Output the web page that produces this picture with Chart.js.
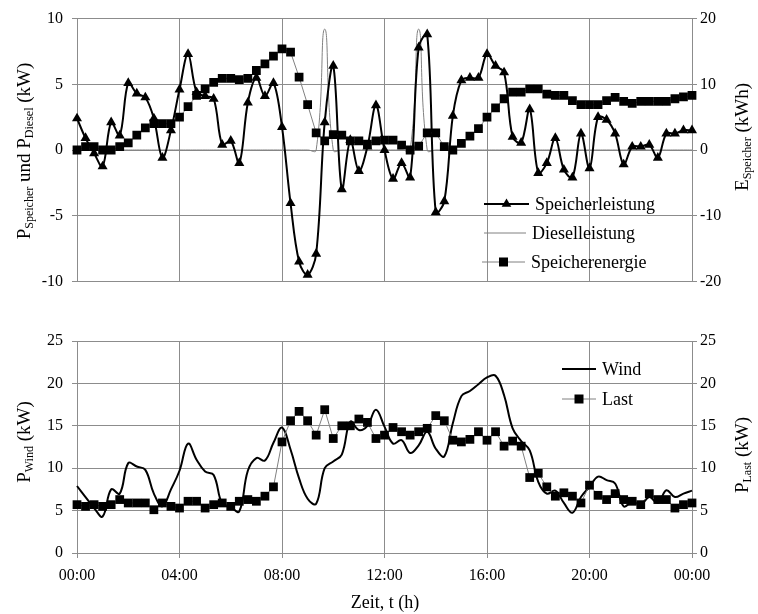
<!DOCTYPE html>
<html>
<head>
<meta charset="utf-8">
<script src="https://cdn.jsdelivr.net/npm/chart.js@4.4.1/dist/chart.umd.min.js"></script>
<style>
  body { margin: 0; background: #fff; }
  #wrap { position: relative; width: 758px; height: 614px; }
  canvas { position: absolute; left: 0; }
</style>
</head>
<body>
<div id="wrap">
  <canvas id="topChart" width="758" height="300" style="top:0"></canvas>
  <canvas id="bottomChart" width="758" height="314" style="top:300px"></canvas>
</div>
<script>
// time of each sample in hours (every 20 min, 00:00 .. 24:00)
const times = Array.from({ length: 73 }, (_, i) => i / 3);
const hourLabels = ['00:00', '04:00', '08:00', '12:00', '16:00', '20:00', '00:00'];

// top chart, kW (left axis)
const speicherleistung = [
  2.4, 0.9, -0.25, -1.25, 2.1, 1.1, 5.1, 4.3, 4.0, 2.4,
  -0.6, 1.5, 4.6, 7.3, 4.4, 4.1, 3.9, 0.4, 0.7, -1.0,
  3.6, 5.5, 4.1, 5.1, 1.75, -4.05, -8.5, -9.5, -7.9, 2.1,
  6.4, -3.0, 0.75, -1.6, 0.25, 3.4, 0.0, -2.2, -1.0, -2.1,
  7.8, 8.8, -4.75, -3.9, 2.6, 5.3, 5.5, 5.5, 7.3, 6.4,
  5.9, 1.0, 0.55, 3.1, -1.75, -1.0, 0.9, -1.5, -2.1, 1.25,
  -1.4, 2.5, 2.3, 1.25, -1.1, 0.25, 0.25, 0.4, -0.6, 1.25,
  1.25, 1.5, 1.5
];
const dieselleistung = [
  0, 0, 0, 0, 0, 0, 0, 0, 0, 0,
  0, 0, 0, 0, 0, 0, 0, 0, 0, 0,
  0, 0, 0, 0, 0, 0, 0, 0, 0, 9.2,
  0, 0, 0, 0, 0, 0, 0, 0, 0, 0,
  9.2, 0, 0, 0, 0, 0, 0, 0, 0, 0,
  0, 0, 0, 0, 0, 0, 0, 0, 0, 0,
  0, 0, 0, 0, 0, 0, 0, 0, 0, 0,
  0, 0, 0
];
// top chart, kWh (right axis)
const speicherenergie = [
  0, 0.5, 0.5, 0, 0, 0.5, 1.1, 2.25, 3.35, 4.0,
  4.0, 4.0, 5.0, 6.6, 8.3, 9.3, 10.3, 10.9, 10.9, 10.7,
  10.9, 12.1, 13.1, 14.3, 15.4, 14.9, 11.1, 6.9, 2.6, 1.4,
  2.35, 2.25, 1.4, 1.4, 0.9, 1.4, 1.5, 1.5, 0.75, 0,
  0.6, 2.6, 2.6, 0.5, 0, 1.0, 2.1, 3.25, 5.0, 6.4,
  7.8, 8.8, 8.8, 9.3, 9.3, 8.5, 8.3, 8.3, 7.5, 6.9,
  6.9, 6.9, 7.5, 8.0, 7.4, 7.1, 7.4, 7.4, 7.4, 7.4,
  7.8, 8.1, 8.3
];

// bottom chart, kW
const wind = [
  7.9, 6.6, 5.3, 4.3, 7.5, 7.0, 10.6, 10.2, 9.8, 7.0,
  5.5, 7.5, 9.7, 12.9, 11.0, 9.6, 9.2, 5.8, 5.4, 4.9,
  9.7, 11.2, 10.9, 13.0, 14.8, 12.2, 8.8, 6.4, 5.8, 10.0,
  10.8, 11.6, 15.5, 14.5, 15.0, 16.9, 14.9, 12.9, 13.3, 11.8,
  12.7, 14.3, 12.3, 11.4, 15.3, 18.5, 19.1, 19.9, 20.7, 20.9,
  18.6, 14.7, 13.2, 12.1, 8.4, 7.0, 7.35, 5.9, 4.75, 6.6,
  7.8, 9.0, 8.6, 8.2, 5.5, 6.05, 5.7, 6.6, 5.9, 7.4,
  6.6, 7.0, 7.35
];
const last = [
  5.7, 5.5, 5.7, 5.5, 5.7, 6.3, 5.9, 5.9, 5.9, 5.1,
  5.9, 5.5, 5.3, 6.1, 6.1, 5.3, 5.7, 5.9, 5.5, 6.1,
  6.3, 6.1, 6.7, 7.8, 13.1, 15.6, 16.7, 15.6, 13.9, 16.9,
  13.5, 15.0, 15.0, 15.8, 15.4, 13.5, 13.9, 14.8, 14.3, 13.9,
  14.3, 14.7, 16.2, 15.6, 13.3, 13.1, 13.4, 14.3, 13.3, 14.3,
  12.6, 13.2, 12.6, 8.9, 9.4, 7.8, 6.7, 7.1, 6.7, 5.9,
  8.0, 6.8, 6.3, 7.0, 6.3, 6.1, 5.7, 7.0, 6.3, 6.3,
  5.3, 5.7, 5.9
];

const SERIF = "'Liberation Serif', 'Times New Roman', serif";
const GRID = '#8c8c8c';
const pts = arr => arr.map((v, i) => ({ x: times[i], y: v }));

// text with subscripts, rotated, centred on (x, y)
function richTitle(ctx, parts, x, y, rot, size, subSize) {
  ctx.save();
  ctx.translate(x, y);
  ctx.rotate(rot);
  let w = 0;
  parts.forEach(p => {
    ctx.font = (p[1] ? subSize : size) + 'px ' + SERIF;
    w += ctx.measureText(p[0]).width;
  });
  let cx = -w / 2;
  ctx.fillStyle = '#000';
  ctx.textAlign = 'left';
  ctx.textBaseline = 'alphabetic';
  parts.forEach(p => {
    ctx.font = (p[1] ? subSize : size) + 'px ' + SERIF;
    ctx.fillText(p[0], cx, p[1] ? 9 : 6);
    cx += ctx.measureText(p[0]).width;
  });
  ctx.restore();
}

function legendItem(ctx, x1, x2, y, color, lw, marker, label) {
  ctx.save();
  ctx.strokeStyle = color;
  ctx.lineWidth = lw;
  ctx.beginPath();
  ctx.moveTo(x1, y);
  ctx.lineTo(x2, y);
  ctx.stroke();
  ctx.fillStyle = '#000';
  const mx = (x1 + x2) / 2;
  if (marker === 'triangle') {
    ctx.beginPath();
    ctx.moveTo(mx, y - 5.5);
    ctx.lineTo(mx + 4.8, y + 2.8);
    ctx.lineTo(mx - 4.8, y + 2.8);
    ctx.closePath();
    ctx.fill();
  } else if (marker === 'rect') {
    ctx.fillRect(mx - 4.5, y - 4.5, 9, 9);
  }
  ctx.font = '18px ' + SERIF;
  ctx.textAlign = 'left';
  ctx.textBaseline = 'middle';
  ctx.fillText(label, x2 + 6, y + 1);
  ctx.restore();
}

function yAxis(pos, min, max, step, width, onArea, pad) {
  return {
    position: pos, min: min, max: max,
    afterFit: s => { s.width = width; },
    ticks: { stepSize: step, color: '#000', font: { family: SERIF, size: 16 }, padding: pad },
    grid: { color: GRID, tickLength: 5, drawOnChartArea: onArea },
    border: { color: GRID }
  };
}

function xAxis(showLabels, height) {
  return {
    type: 'linear', min: 0, max: 24,
    afterFit: s => { s.height = height; },
    afterBuildTicks: s => { s.ticks = [0, 4, 8, 12, 16, 20, 24].map(v => ({ value: v })); },
    ticks: {
      display: showLabels, autoSkip: false, maxRotation: 0, padding: 8,
      color: '#000', font: { family: SERIF, size: 16 },
      callback: v => hourLabels[v / 4]
    },
    grid: { color: GRID, tickLength: 5, drawTicks: showLabels },
    border: { color: GRID }
  };
}

const topDeco = {
  id: 'topDeco',
  afterDraw(chart) {
    const ctx = chart.ctx;
    richTitle(ctx, [['P', 0], ['Speicher', 1], [' und P', 0], ['Diesel', 1], [' (kW)', 0]],
      24, 151, -Math.PI / 2, 19, 12);
    richTitle(ctx, [['E', 0], ['Speicher', 1], [' (kWh)', 0]],
      742, 137, -Math.PI / 2, 19, 12);
    legendItem(ctx, 484, 529, 204, '#000', 2, 'triangle', 'Speicherleistung');
    legendItem(ctx, 484, 526, 233, '#808080', 1, null, 'Dieselleistung');
    legendItem(ctx, 482, 525, 262, '#808080', 1, 'rect', 'Speicherenergie');
  }
};

const bottomDeco = {
  id: 'bottomDeco',
  afterDraw(chart) {
    const ctx = chart.ctx;
    richTitle(ctx, [['P', 0], ['Wind', 1], [' (kW)', 0]], 24, 142, -Math.PI / 2, 19, 12);
    richTitle(ctx, [['P', 0], ['Last', 1], [' (kW)', 0]], 742, 155, -Math.PI / 2, 19, 12);
    ctx.save();
    ctx.font = '18px ' + SERIF;
    ctx.fillStyle = '#000';
    ctx.textAlign = 'center';
    ctx.textBaseline = 'middle';
    ctx.fillText('Zeit, t (h)', 385, 303);
    ctx.restore();
    legendItem(ctx, 562, 596, 69, '#000', 2, null, 'Wind');
    legendItem(ctx, 562, 596, 99, '#808080', 1, 'rect', 'Last');
  }
};

new Chart(document.getElementById('topChart'), {
  type: 'line',
  data: {
    datasets: [
      {
        label: 'Speicherenergie', data: pts(speicherenergie), yAxisID: 'y2', order: 0,
        borderColor: '#808080', borderWidth: 1, tension: 0,
        pointStyle: 'rect', pointRadius: 6.2, pointBackgroundColor: '#000', pointBorderWidth: 0,
        clip: 8
      },
      {
        label: 'Speicherleistung', data: pts(speicherleistung), yAxisID: 'y', order: 1,
        borderColor: '#000', borderWidth: 2, tension: 0.35,
        pointStyle: 'triangle', pointRadius: 5.8, pointBackgroundColor: '#000', pointBorderWidth: 0,
        clip: 8
      },
      {
        label: 'Dieselleistung', data: pts(dieselleistung), yAxisID: 'y', order: 2,
        borderColor: '#808080', borderWidth: 1, tension: 0.5, pointRadius: 0,
        clip: 8
      }
    ]
  },
  options: {
    responsive: false,
    animation: false,
    layout: { padding: { top: 17, left: 0, right: 0, bottom: 0 } },
    plugins: { legend: { display: false }, tooltip: { enabled: false } },
    scales: {
      x: xAxis(false, 17),
      y: yAxis('left', -10, 10, 5, 77, true, 9),
      y2: yAxis('right', -20, 20, 10, 66, false, 3)
    }
  },
  plugins: [topDeco]
});

new Chart(document.getElementById('bottomChart'), {
  type: 'line',
  data: {
    datasets: [
      {
        label: 'Last', data: pts(last), yAxisID: 'y', order: 0,
        borderColor: '#808080', borderWidth: 1, tension: 0,
        pointStyle: 'rect', pointRadius: 6.2, pointBackgroundColor: '#000', pointBorderWidth: 0,
        clip: 8
      },
      {
        label: 'Wind', data: pts(wind), yAxisID: 'y', order: 1,
        borderColor: '#000', borderWidth: 2, tension: 0.4, pointRadius: 0,
        clip: 8
      }
    ]
  },
  options: {
    responsive: false,
    animation: false,
    layout: { padding: { top: 41, left: 0, right: 0, bottom: 0 } },
    plugins: { legend: { display: false }, tooltip: { enabled: false } },
    scales: {
      x: xAxis(true, 61),
      y: yAxis('left', 0, 25, 5, 77, true, 9),
      y2: yAxis('right', 0, 25, 5, 66, false, 3)
    }
  },
  plugins: [bottomDeco]
});
</script>
</body>
</html>
